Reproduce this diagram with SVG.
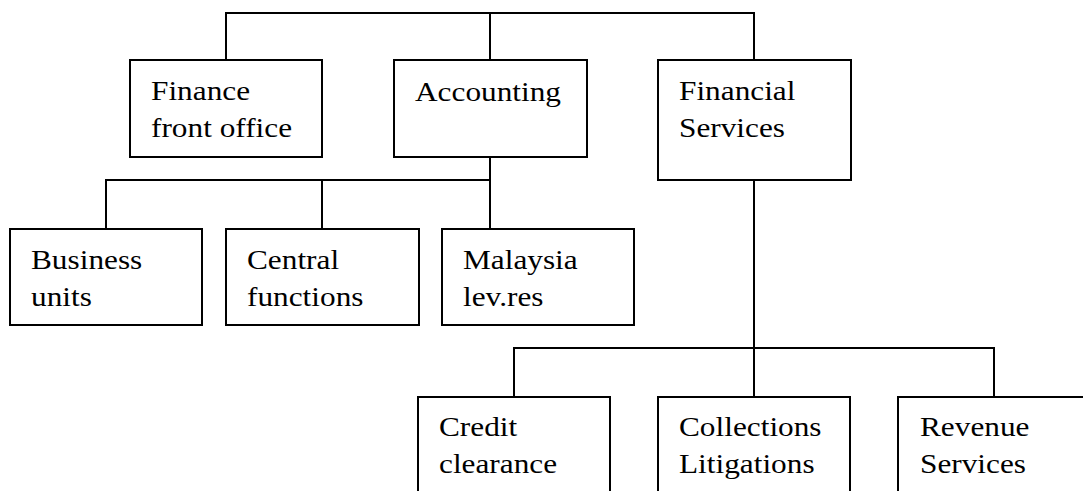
<svg xmlns="http://www.w3.org/2000/svg" width="1083" height="491" viewBox="0 0 1083 491">
<style>
.box{fill:#fff;stroke:#000;stroke-width:2}
.conn{fill:none;stroke:#000;stroke-width:2}
.t{font-family:"Liberation Serif","Times New Roman",serif;font-size:28px;fill:#000}
</style>
<rect width="1083" height="491" fill="#fff"/>
<g id="connectors" class="conn">
<path d="M226,60 V13 H754 V60"/>
<path d="M490,13 V60"/>
<path d="M490,157 V229"/>
<path d="M106,229 V180 H490"/>
<path d="M322,180 V229"/>
<path d="M754,180 V397"/>
<path d="M514,397 V348 H994 V397"/>
</g>
<g id="finance-front-office">
<rect class="box" x="130" y="60" width="192" height="97"/>
<text class="t" transform="translate(151,100) scale(1.118,1)"><tspan x="0" y="0">Finance</tspan><tspan x="0" y="37">front office</tspan></text>
</g>
<g id="accounting">
<rect class="box" x="394" y="60" width="193" height="97"/>
<text class="t" transform="translate(415,101) scale(1.118,1)"><tspan x="0" y="0">Accounting</tspan></text>
</g>
<g id="financial-services">
<rect class="box" x="658" y="60" width="193" height="120"/>
<text class="t" transform="translate(679,100) scale(1.118,1)"><tspan x="0" y="0">Financial</tspan><tspan x="0" y="37">Services</tspan></text>
</g>
<g id="business-units">
<rect class="box" x="10" y="229" width="192" height="96"/>
<text class="t" transform="translate(31,269) scale(1.118,1)"><tspan x="0" y="0">Business</tspan><tspan x="0" y="37">units</tspan></text>
</g>
<g id="central-functions">
<rect class="box" x="226" y="229" width="193" height="96"/>
<text class="t" transform="translate(247,269) scale(1.118,1)"><tspan x="0" y="0">Central</tspan><tspan x="0" y="37">functions</tspan></text>
</g>
<g id="malaysia-lev-res">
<rect class="box" x="442" y="229" width="192" height="96"/>
<text class="t" transform="translate(463,269) scale(1.118,1)"><tspan x="0" y="0">Malaysia</tspan><tspan x="0" y="37">lev.res</tspan></text>
</g>
<g id="credit-clearance">
<rect class="box" x="418" y="397" width="192" height="120"/>
<text class="t" transform="translate(439,436) scale(1.118,1)"><tspan x="0" y="0">Credit</tspan><tspan x="0" y="37">clearance</tspan></text>
</g>
<g id="collections-litigations">
<rect class="box" x="658" y="397" width="192" height="120"/>
<text class="t" transform="translate(679,436) scale(1.118,1)"><tspan x="0" y="0">Collections</tspan><tspan x="0" y="37">Litigations</tspan></text>
</g>
<g id="revenue-services">
<rect class="box" x="898" y="397" width="192" height="120"/>
<text class="t" transform="translate(920,436) scale(1.118,1)"><tspan x="0" y="0">Revenue</tspan><tspan x="0" y="37">Services</tspan></text>
</g>
</svg>
